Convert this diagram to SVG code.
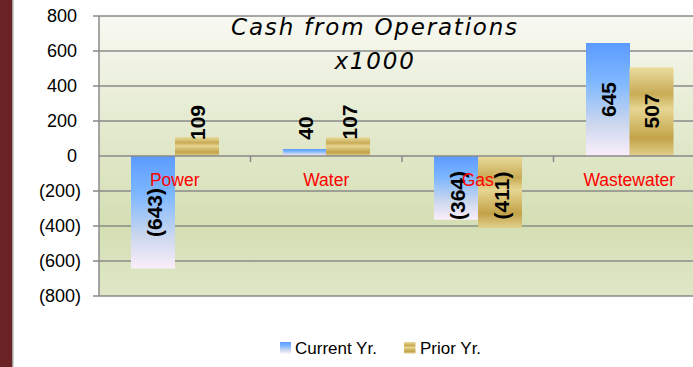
<svg xmlns="http://www.w3.org/2000/svg" width="693" height="367" viewBox="0 0 693 367">
<defs>
<linearGradient id="plotBg" x1="0" y1="0" x2="0" y2="1">
<stop offset="0" stop-color="#f8f9f2"/>
<stop offset="0.45" stop-color="#e1e8ca"/>
<stop offset="0.75" stop-color="#d4dfb4"/>
<stop offset="1" stop-color="#dfe7c7"/>
</linearGradient>
<linearGradient id="cur" x1="0" y1="0" x2="0" y2="1">
<stop offset="0" stop-color="#5b9bff"/>
<stop offset="0.35" stop-color="#7fb8ff"/>
<stop offset="0.7" stop-color="#c9d6ee"/>
<stop offset="1" stop-color="#fbeefa"/>
</linearGradient>
<linearGradient id="pri" x1="0" y1="0" x2="0" y2="1">
<stop offset="0" stop-color="#e9dc9e"/>
<stop offset="0.3" stop-color="#c9ab55"/>
<stop offset="0.47" stop-color="#e6d692"/>
<stop offset="0.8" stop-color="#c3a349"/>
<stop offset="1" stop-color="#e0cf8c"/>
</linearGradient>
<style>
.grid{stroke:#8a8a8a;stroke-width:1.5;fill:none}
.ax{font-family:"Liberation Sans",Arial,sans-serif;font-size:18px;fill:#000;text-anchor:end}
.cat{font-family:"Liberation Sans",Arial,sans-serif;font-size:17.5px;fill:#ff0000;text-anchor:middle}
.dl{font-family:"Liberation Sans",Arial,sans-serif;font-size:21px;font-weight:bold;fill:#000;text-anchor:middle;dominant-baseline:central}
.ttl{font-family:"DejaVu Sans",Verdana,sans-serif;font-size:23px;font-style:italic;fill:#000;text-anchor:middle;letter-spacing:1.8px}
.lg{font-family:"Liberation Sans",Arial,sans-serif;font-size:17px;fill:#000}
</style>
</defs>
<rect x="0" y="0" width="693" height="367" fill="#ffffff"/>
<rect x="0" y="0" width="12" height="367" fill="#6a2224"/>
<rect x="12" y="0" width="1.5" height="367" fill="#a0a0a0"/>
<g id="plot">
<rect x="99" y="16" width="600" height="280" fill="url(#plotBg)"/>
<g id="gridlines">
<line class="grid" x1="93" y1="16" x2="693" y2="16"/>
<line class="grid" x1="93" y1="51" x2="693" y2="51"/>
<line class="grid" x1="93" y1="86" x2="693" y2="86"/>
<line class="grid" x1="93" y1="121" x2="693" y2="121"/>
<line class="grid" x1="93" y1="191" x2="693" y2="191"/>
<line class="grid" x1="93" y1="226" x2="693" y2="226"/>
<line class="grid" x1="93" y1="261" x2="693" y2="261"/>
<line class="grid" x1="93" y1="296" x2="693" y2="296"/>
<line class="grid" x1="99" y1="16" x2="99" y2="296"/>
</g>
</g>
<g id="axis-labels">
<text class="ax" x="77" y="22">800</text>
<text class="ax" x="77" y="57">600</text>
<text class="ax" x="77" y="92">400</text>
<text class="ax" x="77" y="127">200</text>
<text class="ax" x="77" y="162">0</text>
<text class="ax" x="81" y="197">(200)</text>
<text class="ax" x="81" y="232">(400)</text>
<text class="ax" x="81" y="267">(600)</text>
<text class="ax" x="81" y="302">(800)</text>
</g>
<g id="title">
<text class="ttl" x="375" y="35">Cash from Operations</text>
<text class="ttl" x="375" y="69">x1000</text>
</g>
<g id="bars">
<g id="power">
<rect x="131" y="156" width="44" height="112.5" fill="url(#cur)"/>
<rect x="175" y="137" width="44" height="19" fill="url(#pri)"/>
</g>
<g id="water">
<rect x="283" y="149" width="44" height="7" fill="url(#cur)"/>
<rect x="326" y="137.3" width="44" height="18.7" fill="url(#pri)"/>
</g>
<g id="gas">
<rect x="434" y="156" width="44" height="63.7" fill="url(#cur)"/>
<rect x="478" y="156" width="44" height="71.9" fill="url(#pri)"/>
</g>
<g id="wastewater">
<rect x="586" y="43" width="44" height="113" fill="url(#cur)"/>
<rect x="629.5" y="67.3" width="44" height="88.7" fill="url(#pri)"/>
</g>
</g>
<g id="category-axis">
<line class="grid" x1="99" y1="156" x2="693" y2="156"/>
<line class="grid" x1="250.5" y1="156" x2="250.5" y2="162"/>
<line class="grid" x1="402" y1="156" x2="402" y2="162"/>
<line class="grid" x1="553.5" y1="156" x2="553.5" y2="162"/>
</g>
<g id="data-labels">
<text class="dl" transform="translate(154,212.5) rotate(-90)">(643)</text>
<text class="dl" transform="translate(197,122.5) rotate(-90)">109</text>
<text class="dl" transform="translate(305,128) rotate(-90)">40</text>
<text class="dl" transform="translate(349,122) rotate(-90)">107</text>
<text class="dl" transform="translate(457,195.5) rotate(-90)">(364)</text>
<text class="dl" transform="translate(501,195.5) rotate(-90)">(411)</text>
<text class="dl" transform="translate(608,99.5) rotate(-90)">645</text>
<text class="dl" transform="translate(651.5,111) rotate(-90)">507</text>
</g>
<g id="category-labels">
<text class="cat" x="174.75" y="186">Power</text>
<text class="cat" x="326.25" y="186">Water</text>
<text class="cat" x="477.75" y="186">Gas</text>
<text class="cat" x="629.25" y="186">Wastewater</text>
</g>
<g id="legend">
<rect x="280" y="342" width="11" height="11.5" fill="url(#cur)"/>
<text class="lg" x="295" y="354">Current Yr.</text>
<rect x="404" y="342" width="11.5" height="11.5" fill="url(#pri)"/>
<text class="lg" x="420" y="354">Prior Yr.</text>
</g>
</svg>
